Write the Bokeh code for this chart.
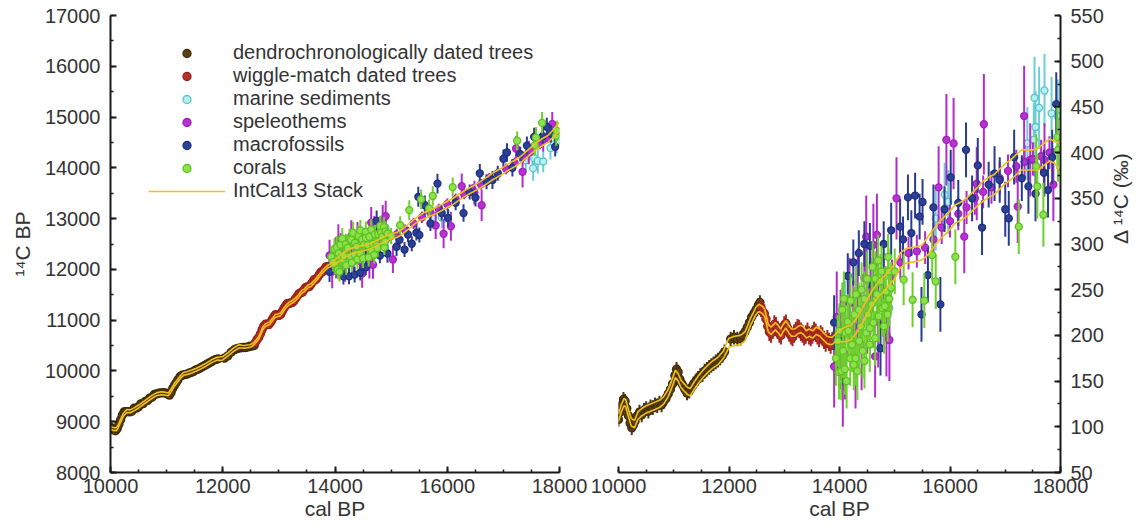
import math
import numpy as np
from bokeh.plotting import figure
from bokeh.layouts import row
from bokeh.models import Range1d, SingleIntervalTicker, Legend, LegendItem, ColumnDataSource
from bokeh.embed import file_html
from bokeh.resources import INLINE

# ---------------- data (cal BP, Delta14C permil, 1-sigma permil) ----------------
dendro_cal = [10000, 10030, 10060, 10090, 10120, 10150, 10180, 10210, 10240, 10270, 10300, 10340,
              10380, 10420, 10460, 10500, 10540, 10580, 10620, 10660, 10700, 10740, 10780, 10820,
              10860, 10900, 10940, 10980, 11020, 11050, 11080, 11110, 11140, 11170, 11200, 11240,
              11280, 11320, 11360, 11400, 11440, 11480, 11520, 11560, 11600, 11640, 11680, 11720,
              11760, 11800, 11840, 11880, 11920, 12030, 12090, 12150, 12210, 12250, 12290, 12330,
              12370, 12410, 12450, 12490, 12530, 12560]
dendro_d14c = [108, 116, 124, 130, 128, 120, 112, 104, 99, 102, 106, 112,
               116, 113, 118, 120, 117, 122, 121, 124, 123, 126, 124, 128,
               131, 136, 141, 147, 156, 163, 160, 152, 148, 145, 141, 137,
               139, 143, 147, 150, 153, 156, 157, 161, 163, 165, 167, 169,
               171, 173, 175, 178, 182, 196, 198, 196, 197, 200, 204, 209,
               214, 220, 224, 228, 233, 236]
dendro_err = [8] * len(dendro_cal)

wiggle_cal = [12580, 12610, 12640, 12670, 12700, 12730, 12760, 12790, 12820, 12850, 12880, 12910,
              12940, 12970, 13000, 13030, 13060, 13090, 13120, 13150, 13180, 13210, 13240, 13270,
              13300, 13330, 13360, 13390, 13420, 13450, 13480, 13510, 13540, 13570, 13600, 13630,
              13660, 13690, 13720, 13750, 13780, 13810, 13840, 13870, 13900]
wiggle_d14c = [230, 226, 224, 218, 210, 204, 202, 206, 212, 210, 206, 202,
               200, 206, 211, 213, 208, 203, 200, 198, 202, 205, 208, 207,
               204, 202, 199, 201, 204, 200, 198, 201, 205, 203, 200, 197,
               201, 199, 195, 192, 196, 193, 190, 194, 197]
wiggle_err = [10] * len(wiggle_cal)

marine_cal = [14000, 14100, 14300, 14500, 14700, 14900, 15742, 15903, 15968, 17400, 17516, 17530,
              17548, 17613, 17710, 17839, 17950]
marine_d14c = [200, 225, 245, 260, 250, 230, 328, 354, 346, 410, 414, 460,
               428, 449, 468, 443, 440]
marine_err = [35, 35, 35, 35, 35, 30, 35, 35, 35, 40, 40, 45,
              40, 45, 40, 40, 40]

speleo_cal = [13903, 13950, 14020, 14060, 14100, 14180, 14250, 14290, 14330, 14400, 14450, 14484,
              14500, 14560, 14613, 14645, 14677, 14700, 14800, 14850, 14903, 14950, 15032, 15100,
              15250, 15400, 15550, 15700, 15794, 15850, 15935, 16000, 16065, 16150, 16258, 16300,
              16450, 16484, 16600, 16613, 16750, 16900, 17050, 17200, 17226, 17342, 17350, 17452,
              17500, 17650, 17710, 17800, 17871]
speleo_d14c = [166, 220, 200, 145, 180, 235, 210, 165, 245, 190, 263, 308,
               230, 250, 299, 177, 310, 215, 240, 200, 195, 265, 350, 280,
               290, 292, 296, 305, 362, 318, 414, 325, 410, 333, 308, 340,
               350, 366, 357, 431, 362, 372, 380, 385, 341, 440, 390, 392,
               393, 396, 392, 400, 365]
speleo_err = [45, 50, 50, 45, 50, 50, 50, 45, 50, 50, 45, 45,
              50, 50, 45, 45, 45, 50, 50, 45, 45, 18, 45, 18,
              18, 18, 18, 18, 45, 18, 50, 18, 50, 18, 40, 18,
              18, 40, 18, 55, 18, 18, 18, 18, 40, 55, 18, 40,
              18, 18, 40, 18, 40]

macro_cal = [13903, 14050, 14150, 14226, 14250, 14350, 14450, 14550, 14600, 14742, 14800, 14935,
             15097, 15150, 15239, 15300, 15368, 15450, 15484, 15503, 15600, 15700, 15826, 15900,
             16013, 16150, 16290, 16400, 16503, 16580, 16700, 16806, 16900, 17000, 17064, 17161,
             17300, 17419, 17548, 17700, 17774, 17850, 17923]
macro_d14c = [214, 180, 265, 194, 280, 290, 300, 298, 255, 186, 300, 315,
              319, 305, 351, 312, 353, 330, 223, 346, 266, 340, 234, 338,
              373, 345, 403, 350, 386, 318, 365, 377, 370, 338, 328, 395,
              372, 363, 355, 378, 359, 395, 453]
macro_err = [30, 35, 25, 30, 25, 25, 25, 25, 30, 30, 25, 30,
             30, 25, 25, 25, 25, 25, 30, 25, 30, 25, 30, 25,
             30, 25, 30, 25, 30, 30, 25, 30, 25, 30, 30, 30,
             25, 30, 30, 25, 30, 30, 35]

coral_cal = [13935, 13968, 13990, 14000, 14032, 14050, 14065, 14080, 14097, 14110, 14129, 14150,
             14161, 14194, 14200, 14226, 14258, 14270, 14290, 14300, 14323, 14350, 14355, 14387,
             14400, 14419, 14450, 14452, 14484, 14500, 14516, 14548, 14550, 14581, 14600, 14613,
             14645, 14650, 14677, 14700, 14710, 14742, 14760, 14774, 14806, 14820, 14839, 14871,
             14880, 14890, 14900, 14935, 15000, 15161, 15323, 15535, 15677, 15742, 16097, 17245,
             17561, 17581, 17690, 17942, 17955]
coral_d14c = [175, 194, 160, 205, 161, 228, 183, 240, 163, 203, 150, 215,
              205, 175, 238, 190, 168, 223, 175, 245, 161, 228, 194, 210,
              250, 183, 240, 172, 203, 262, 223, 190, 208, 234, 275, 214,
              197, 262, 245, 282, 221, 259, 270, 230, 210, 232, 248, 223,
              286, 270, 240, 252, 270, 261, 239, 238, 288, 259, 286, 319,
              385, 363, 332, 417, 403]
coral_err = [30, 28, 30, 30, 32, 30, 30, 30, 28, 30, 30, 30,
             32, 30, 30, 30, 28, 30, 30, 30, 32, 30, 30, 28,
             30, 30, 30, 30, 30, 30, 28, 30, 30, 30, 28, 28,
             30, 30, 30, 28, 28, 30, 28, 30, 30, 30, 28, 30,
             25, 25, 30, 28, 25, 28, 30, 30, 28, 30, 30, 30,
             35, 35, 35, 35, 35]

# IntCal13 stack (1-sigma envelope): midpoint and half-width in permil
curve_cal = [10000, 10050, 10100, 10130, 10180, 10230, 10290, 10350, 10420, 10500, 10580, 10660,
             10740, 10820, 10900, 10960, 11030, 11080, 11130, 11190, 11250, 11300, 11370, 11450,
             11530, 11610, 11700, 11800, 11900, 11950, 12000, 12100, 12200, 12250, 12290, 12340,
             12390, 12440, 12480, 12520, 12550, 12600, 12645, 12680, 12710, 12760, 12840, 12890,
             12935, 12980, 13030, 13080, 13130, 13190, 13250, 13300, 13350, 13400, 13450, 13515,
             13580, 13645, 13710, 13775, 13830, 13870, 13920, 14000, 14100, 14200, 14300, 14400,
             14500, 14600, 14700, 14800, 14900, 15000, 15100, 15200, 15300, 15400, 15500, 15600,
             15700, 15800, 15900, 16000, 16100, 16200, 16300, 16400, 16500, 16600, 16700, 16800,
             16900, 17000, 17100, 17200, 17300, 17400, 17500, 17600, 17700, 17800, 17900, 18000]
curve_mid = [110, 120, 127, 126, 115, 105, 103, 112, 116, 119, 121, 123,
             125, 129, 137, 146, 158, 154, 147, 143, 139, 138, 145, 152,
             158, 163, 168, 172, 179, 186, 192, 194, 195, 197, 199, 207,
             215, 221, 226, 229, 230, 228, 225, 216, 208, 205, 210, 207,
             203, 208, 212, 207, 203, 203, 206, 207, 205, 201, 203, 201,
             205, 203, 199, 195, 194, 194, 197, 199, 201, 203, 210, 220,
             231, 242, 250, 256, 263, 270, 282, 287, 288, 289, 291, 298,
             306, 314, 320, 326, 333, 336, 340, 346, 352, 358, 362, 365,
             371, 377, 381, 387, 392, 392, 392, 393, 398, 403, 400, 395]
curve_half = [4, 4, 4, 4, 4, 4, 4, 4, 4, 4, 4, 4,
              4, 4, 4, 4, 4, 4, 4, 4, 4, 4, 4, 4,
              4, 4, 4, 4, 4, 5, 5, 5, 5, 5, 5, 4,
              4, 4, 4, 4, 4, 4, 4, 4, 4, 4, 4, 4,
              4, 4, 4, 4, 4, 4, 4, 4, 4, 4, 4, 4,
              4, 4, 4, 4, 4, 4, 4, 6, 8, 8, 8, 8,
              8, 8, 8, 8, 8, 8, 8, 8, 8, 8, 8, 10,
              10, 10, 10, 10, 10, 10, 10, 10, 10, 11, 11, 11,
              11, 11, 11, 11, 11, 11, 11, 12, 12, 12, 12, 15]

x_ticks_interval = 2000
left_ticks_interval = 1000
right_ticks_interval = 50

# ---------------- conversion Delta14C -> conventional 14C age ----------------
LIBBY = 8033.0
CAL_MEAN = 8267.0


def c14_age(cal, d):
    return LIBBY * (np.asarray(cal, float) / CAL_MEAN - np.log1p(np.asarray(d, float) / 1000.0))


def c14_err(d, e):
    return LIBBY * np.asarray(e, float) / (1000.0 + np.asarray(d, float))


def make_source(cal, d, e):
    cal = np.asarray(cal, float)
    d = np.asarray(d, float)
    e = np.asarray(e, float)
    age = c14_age(cal, d)
    ae = c14_err(d, e)
    return ColumnDataSource(dict(cal=cal, d=d, d_lo=d - e, d_hi=d + e,
                                 age=age, a_lo=age - ae, a_hi=age + ae))


FONT = "Liberation Sans"
TXT = "#333333"
AX = "#1a1a1a"
YELLOW = "#f2c01c"

series = [
    ("dendrochronologically dated trees", dendro_cal, dendro_d14c, dendro_err, "#5a4010", "#3e2c0a", "#4a3510", 8),
    ("wiggle-match dated trees", wiggle_cal, wiggle_d14c, wiggle_err, "#b8322a", "#96221a", "#a8281f", 8),
    ("marine sediments", marine_cal, marine_d14c, marine_err, "#b8eef0", "#55c3cb", "#6ccfd6", 7),
    ("speleothems", speleo_cal, speleo_d14c, speleo_err, "#b930d2", "#a020bc", "#b22ccc", 7),
    ("macrofossils", macro_cal, macro_d14c, macro_err, "#2d4099", "#1f2f7c", "#2a3c92", 7),
    ("corals", coral_cal, coral_d14c, coral_err, "#8fe04e", "#5cc21e", "#6fd02c", 7),
]


def style(p):
    p.outline_line_color = None
    p.xgrid.visible = False
    p.ygrid.visible = False
    p.background_fill_color = "white"
    p.border_fill_color = "white"
    for ax in p.axis:
        ax.axis_line_width = 2
        ax.axis_line_color = AX
        ax.major_tick_line_color = AX
        ax.minor_tick_line_color = AX
        ax.major_tick_line_width = 2
        ax.minor_tick_line_width = 1.5
        ax.major_tick_in = 6
        ax.major_tick_out = 0
        ax.minor_tick_in = 3
        ax.minor_tick_out = 0
        ax.major_label_text_font = FONT
        ax.major_label_text_font_size = "20px"
        ax.major_label_text_color = TXT
        ax.axis_label_text_font = FONT
        ax.axis_label_text_font_size = "21px"
        ax.axis_label_text_font_style = "normal"
        ax.axis_label_text_color = TXT
    p.xaxis.ticker = SingleIntervalTicker(interval=x_ticks_interval, num_minor_ticks=4)
    p.xaxis.major_label_standoff = 6
    p.xaxis.axis_label_standoff = 1
    p.xaxis.axis_label = "cal BP"


# page is laid out from (0, 0): left frame 110..559, right frame 618..1066, y 15..472
p1 = figure(width=589, height=527, x_range=Range1d(10000, 18000), y_range=Range1d(8000, 17000),
            output_backend="svg", toolbar_location=None,
            min_border_left=110, min_border_right=30, min_border_top=15, min_border_bottom=55)
p2 = figure(width=557, height=527, x_range=Range1d(10000, 18000), y_range=Range1d(50, 550),
            y_axis_location="right", output_backend="svg", toolbar_location=None,
            min_border_left=29, min_border_right=80, min_border_top=15, min_border_bottom=55)
style(p1)
style(p2)
p1.yaxis.ticker = SingleIntervalTicker(interval=left_ticks_interval, num_minor_ticks=2)
p2.yaxis.ticker = SingleIntervalTicker(interval=right_ticks_interval, num_minor_ticks=2)
p1.yaxis.axis_label = "\u00b9\u2074C BP"
p2.yaxis.axis_label = "\u0394 \u00b9\u2074C (\u2030)"
p1.yaxis.major_label_standoff = 10
p2.yaxis.major_label_standoff = 10
p1.yaxis.axis_label_standoff = 8
p2.yaxis.axis_label_standoff = 14
p2.yaxis.axis_label_orientation = math.pi / 2

legend_items = []
for name, cal, d, e, fill, line, errc, size in series:
    src = make_source(cal, d, e)
    p1.segment(x0="cal", y0="a_lo", x1="cal", y1="a_hi", source=src, line_color=errc, line_width=2)
    r = p1.scatter("cal", "age", source=src, size=size, fill_color=fill, line_color=line, line_width=1.3)
    p2.segment(x0="cal", y0="d_lo", x1="cal", y1="d_hi", source=src, line_color=errc, line_width=2)
    p2.scatter("cal", "d", source=src, size=size, fill_color=fill, line_color=line, line_width=1.3)
    legend_items.append(LegendItem(label=name, renderers=[r]))

cmid = np.asarray(curve_mid, float)
chalf = np.asarray(curve_half, float)
ccal = np.asarray(curve_cal, float)
rl = None
for dv in (cmid + chalf, cmid - chalf):
    rl = p1.line(ccal, c14_age(ccal, dv), line_color=YELLOW, line_width=1.6)
    p2.line(ccal, dv, line_color=YELLOW, line_width=1.6)
legend_items.append(LegendItem(label="IntCal13 Stack", renderers=[rl]))

legend = Legend(items=legend_items, location=(38, 270), orientation="vertical",
                label_text_font=FONT, label_text_font_size="20px", label_text_color=TXT,
                background_fill_alpha=0, border_line_alpha=0, padding=0, margin=0, spacing=0,
                glyph_height=20, glyph_width=77, label_height=20, label_standoff=8)
p1.add_layout(legend)

layout = row(p1, p2)
open("out.html", "w").write(file_html(layout, INLINE))
